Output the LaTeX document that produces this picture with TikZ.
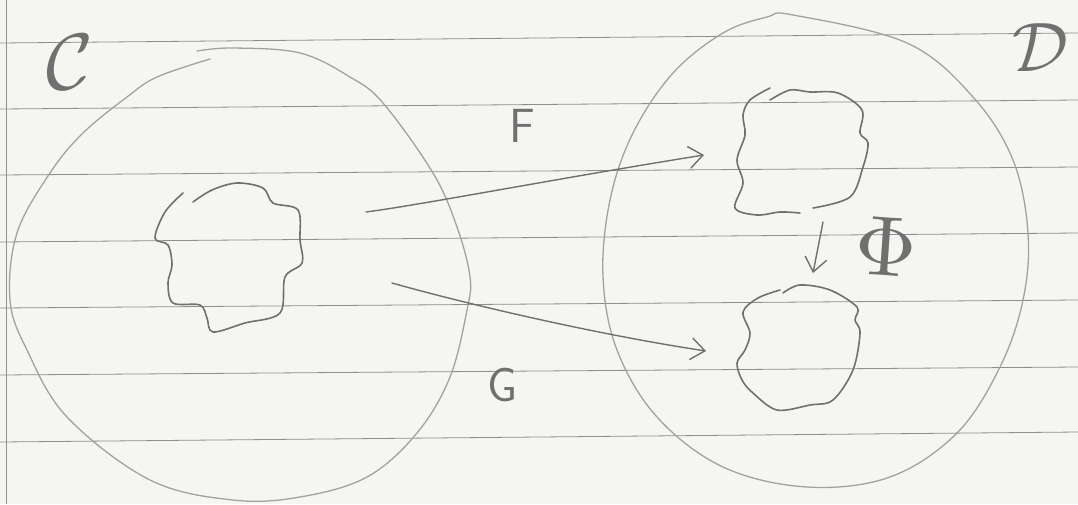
\documentclass[tikz,border=0pt]{standalone}
\usetikzlibrary{arrows.meta}
\definecolor{paper}{HTML}{F5F5F2}
\definecolor{rule}{HTML}{8E8E8E}
\definecolor{pencil}{HTML}{707070}
\definecolor{faint}{HTML}{A2A2A2}
\tikzset{
  ruleline/.style={draw=rule, line width=0.8pt},
  bigset/.style={draw=faint, line width=1.3pt, line cap=round},
  blob/.style={draw=pencil, line width=1.6pt, line cap=round, line join=round},
  functor/.style={draw=pencil, line width=1.4pt, line cap=round, -{Straight Barb[length=14pt,width=22pt,line width=1.4pt]}},
  hand/.style={text=pencil, inner sep=0pt}
}
\begin{document}
\begin{tikzpicture}[x=1pt,y=-1pt]
\fill[paper] (0,0) rectangle (1078,504);
\useasboundingbox (0,0) rectangle (1078,504);
% ruled paper
\foreach \a/\b in {43/33,109/100,175/167,242/233,308/300,375/367,442/432}
  \draw[ruleline] (0,\a) -- (1078,\b);
\draw[ruleline] (6,0) -- (6,504);
% category C
\draw[bigset] plot[smooth, tension=0.6] coordinates {(210,59) (157,77) (127,97) (83,133) (50,173) (17,233) (10,300) (27,350) (67,417) (150,480) (233,500) (300,497) (367,477) (417,433) (450,377) (467,310) (470,277) (457,227) (433,173) (383,103) (350,77) (300,53) (233,48) (197,51)};
% category D
\draw[bigset] plot[smooth cycle, tension=0.6] coordinates {(793,15) (907,43) (973,97) (1013,160) (1028,233) (1023,300) (1000,367) (957,433) (890,477) (807,487) (723,467) (657,417) (617,350) (603,277) (610,200) (633,133) (673,73) (723,33) (767,17)};
% labels of categories
\node[hand, scale=8] (lc) at (70,62) {$\mathcal{C}$};
\node[hand, scale=7] (ld) at (1040,48) {$\mathcal{D}$};
% object x in C
\draw[blob] plot[smooth, tension=0.55] coordinates {(183,193) (165,212) (155,238) (168,245) (172,265) (168,283) (173,303) (200,305) (207,318) (213,332) (245,323) (280,313) (285,277) (302,263) (300,240) (298,210) (273,203) (263,188) (237,183) (212,190) (193,202)};
% Fx in D
\draw[blob] plot[smooth, tension=0.55] coordinates {(770,88) (750,100) (743,115) (745,135) (737,160) (743,183) (735,208) (757,215) (780,212) (800,213)};
\draw[blob] plot[smooth, tension=0.55] coordinates {(813,208) (850,197) (863,167) (868,143) (860,133) (862,110) (838,93) (810,92) (790,90) (770,100)};
% Gx in D
\draw[blob] plot[smooth, tension=0.55] coordinates {(780,290) (758,298) (743,312) (750,333) (745,350) (737,363) (742,380) (753,393) (777,410) (810,405) (833,400) (853,370) (860,333) (855,320) (857,307) (830,290) (800,285) (783,293)};
% anchors for the arrows
\coordinate (fs) at (366,212);
\coordinate (ft) at (704,155);
\coordinate (gs) at (392,283);
\coordinate (gt) at (706,351);
\coordinate (ps) at (823,222);
\coordinate (pt) at (813,273);
% functors
\draw[functor] (fs) .. controls (420,205) and (560,178) .. (ft);
\draw[functor] (gs) .. controls (470,305) and (600,335) .. (gt);
\draw[functor] (ps) -- (pt);
% labels of arrows
\node[hand, font=\fontsize{48}{48}\sffamily\selectfont] (lf) at (522,126) {F};
\node[hand, font=\fontsize{48}{48}\sffamily\selectfont] (lg) at (503,385) {G};
\node[hand, scale=8.5, rotate=-4] (lp) at (886,247) {$\Phi$};
\end{tikzpicture}
\end{document}
